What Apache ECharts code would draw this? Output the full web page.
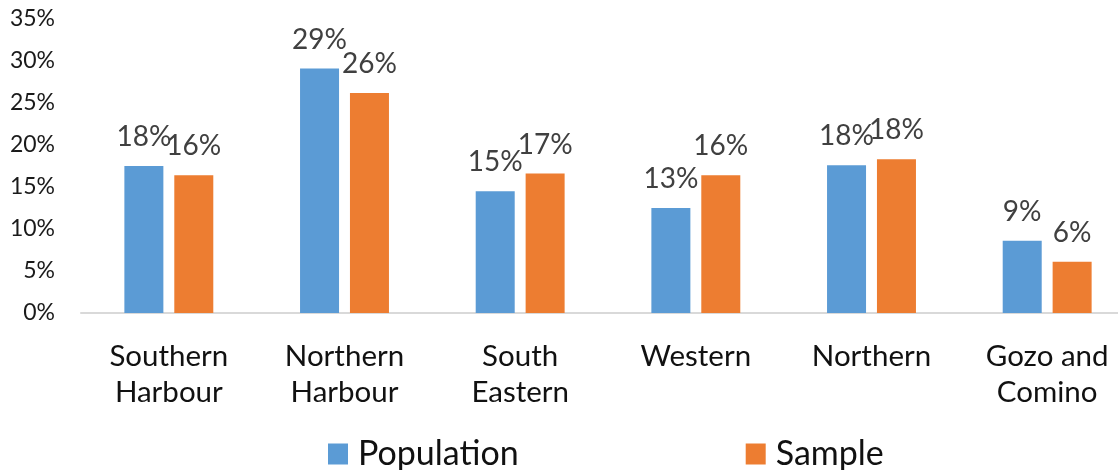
<!DOCTYPE html>
<html>
<head>
<meta charset="utf-8">
<script src="https://cdn.jsdelivr.net/npm/echarts@6/dist/echarts.min.js"></script>
<style>
html,body{margin:0;padding:0;background:#fff;}
#chart{width:1118px;height:470px;}
</style>
</head>
<body>
<div id="chart"></div>
<script>
var categories = ['Southern\nHarbour', 'Northern\nHarbour', 'South\nEastern', 'Western', 'Northern', 'Gozo and\nComino'];
var population = [17.5, 29.1, 14.5, 12.5, 17.6, 8.6];
var sample = [16.4, 26.2, 16.6, 16.4, 18.3, 6.1];
var seriesNames = ['Population', 'Sample'];

var FONT = 'Lato';
var chart = echarts.init(document.getElementById('chart'), null, {renderer: 'canvas'});
function lbl() {
  return {
    show: true, position: 'top', distance: 15,
    fontFamily: FONT, fontSize: 28, color: '#404040',
    formatter: function (p) { return Math.round(p.value) + '%'; }
  };
}
chart.setOption({
  animation: false,
  backgroundColor: '#fff',
  grid: {left: 81, right: -17, top: 19, bottom: 157, containLabel: false, outerBoundsMode: 'none'},
  legend: {
    left: 328, top: 437, padding: 0, itemWidth: 20, itemHeight: 21, itemGap: 227,
    icon: 'rect',
    textStyle: {fontFamily: FONT, fontSize: 34, color: '#111', padding: [0, 0, 0, 5]},
    data: seriesNames
  },
  xAxis: {
    type: 'category', data: categories,
    axisLine: {lineStyle: {color: '#D9D9D9', width: 2}},
    axisTick: {show: false},
    axisLabel: {fontFamily: FONT, fontSize: 29.5, lineHeight: 36, color: '#111', margin: 25, interval: 0}
  },
  yAxis: {
    type: 'value', min: 0, max: 35, interval: 5,
    axisLine: {show: false}, axisTick: {show: false},
    splitLine: {show: false},
    axisLabel: {fontFamily: FONT, fontSize: 23, color: '#1a1a1a', margin: 26, formatter: '{value}%'}
  },
  series: [
    {name: seriesNames[0], type: 'bar', data: population, barWidth: 39, barGap: '28%',
     itemStyle: {color: '#5B9BD5'}, label: lbl()},
    {name: seriesNames[1], type: 'bar', data: sample, barWidth: 39,
     itemStyle: {color: '#ED7D31'}, label: lbl()}
  ]
});
</script>
</body>
</html>
